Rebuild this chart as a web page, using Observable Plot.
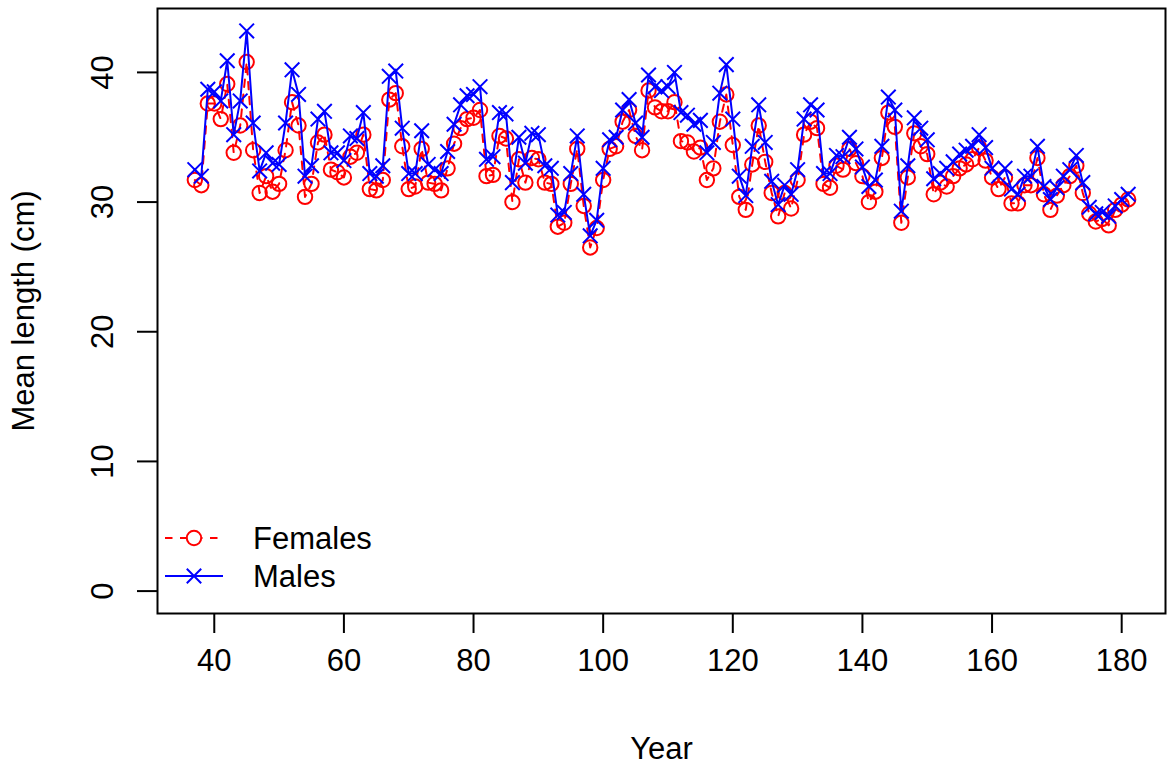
<!DOCTYPE html>
<html>
<head>
<meta charset="utf-8">
<script src="https://cdn.jsdelivr.net/npm/d3@7"></script>
<script src="https://cdn.jsdelivr.net/npm/@observablehq/plot@0.6"></script>
<style>
  html, body { margin: 0; padding: 0; background: #ffffff; }
  #wrap { position: relative; width: 1170px; height: 766px; overflow: hidden; }
  #legend { position: absolute; left: 0; top: 0; pointer-events: none; }
</style>
</head>
<body>
<div id="wrap"></div>
<script>
// ---- Data ----
const firstYear = 37;
const females = [
  31.7, 31.3, 37.6, 37.6, 36.4, 39.1, 33.8, 35.9, 40.8, 34.0,
  30.7, 32.0, 30.8, 31.4, 34.0, 37.7, 35.9, 30.4, 31.4, 34.6,
  35.2, 32.5, 32.3, 31.9, 33.5, 33.8, 35.2, 31.0, 30.9, 31.7,
  37.9, 38.4, 34.3, 31.0, 31.2, 34.1, 31.5, 31.4, 30.9, 32.6,
  34.5, 35.7, 36.4, 36.5, 37.1, 32.0, 32.1, 35.1, 34.9, 30.0,
  33.3, 31.5, 33.4, 33.3, 31.5, 31.4, 28.1, 28.4, 31.4, 34.1,
  29.7, 26.5, 28.0, 31.7, 34.1, 34.3, 36.2, 37.1, 35.1, 34.0,
  38.6, 37.3, 37.0, 37.0, 37.7, 34.7, 34.6, 33.9, 34.2, 31.7,
  32.6, 36.2, 38.3, 34.4, 30.4, 29.4, 32.9, 35.9, 33.1, 30.7,
  28.9, 30.7, 29.5, 31.7, 35.2, 36.2, 35.7, 31.4, 31.1, 32.8,
  32.5, 34.1, 33.0, 32.0, 30.0, 30.8, 33.4, 36.9, 35.8, 28.4,
  31.9, 35.3, 34.3, 33.7, 30.6, 31.5, 31.2, 32.0, 32.6, 32.9,
  33.3, 34.2, 33.2, 31.9, 31.0, 31.9, 29.9, 29.9, 31.3, 31.3,
  33.4, 30.6, 29.4, 30.5, 31.3, 32.0, 32.8, 30.7, 29.1, 28.5,
  28.7, 28.2, 29.4, 29.8, 30.2
];
const males = [
  32.5, 32.0, 38.7, 38.5, 37.8, 40.9, 35.2, 37.8, 43.2, 36.1,
  32.4, 33.8, 33.0, 32.9, 36.1, 40.2, 38.3, 32.0, 32.8, 36.4,
  37.0, 33.8, 33.8, 33.2, 35.1, 34.9, 36.9, 32.2, 32.0, 32.8,
  39.7, 40.1, 35.7, 32.2, 32.2, 35.5, 32.9, 32.5, 32.2, 33.9,
  36.0, 37.5, 38.2, 38.3, 38.9, 33.3, 33.5, 36.9, 36.8, 31.5,
  35.0, 33.0, 35.3, 35.2, 32.8, 32.6, 29.0, 29.2, 32.2, 35.1,
  30.6, 27.4, 28.6, 32.6, 34.8, 35.0, 37.1, 37.9, 36.1, 35.0,
  39.8, 38.9, 38.6, 38.9, 40.0, 36.9, 36.7, 36.0, 36.3, 33.8,
  34.6, 38.4, 40.6, 36.4, 32.0, 30.5, 34.3, 37.5, 34.6, 31.6,
  29.8, 31.3, 30.6, 32.5, 36.4, 37.5, 37.1, 32.2, 32.2, 33.6,
  33.5, 35.0, 34.1, 32.7, 31.2, 31.7, 34.3, 38.1, 37.1, 29.3,
  32.8, 36.5, 35.7, 34.8, 31.8, 32.2, 32.6, 33.1, 33.7, 34.0,
  34.3, 35.2, 34.2, 32.6, 32.0, 32.6, 31.0, 30.6, 32.0, 32.0,
  34.3, 31.2, 30.2, 31.1, 32.0, 32.5, 33.6, 31.5, 29.6, 29.1,
  29.2, 28.9, 29.7, 30.2, 30.6
];
const xTicks = [40, 60, 80, 100, 120, 140, 160, 180];
const yTicks = [0, 10, 20, 30, 40];
const seriesNames = ["Females", "Males"];
const seriesColors = ["#FF0000", "#0000FF"];

// ---- Build tables ----
const fem = females.map((v, i) => ({year: firstYear + i, value: v}));
const mal = males.map((v, i) => ({year: firstYear + i, value: v}));

// R-style 4% axis expansion
const xMin = firstYear, xMax = firstYear + females.length - 1;
const xPad = (xMax - xMin) * 0.04;
const yMax = d3.max(males.concat(females));
const yPad = yMax * 0.04;

const FONT = "'Liberation Sans', Arial, Helvetica, sans-serif";

const chart = Plot.plot({
  width: 1170,
  height: 766,
  marginLeft: 157,
  marginRight: 5,
  marginTop: 8,
  marginBottom: 153,
  x: {domain: [xMin - xPad, xMax + xPad]},
  y: {domain: [0 - yPad, yMax + yPad]},
  style: {fontFamily: FONT, fontSize: "31px", color: "black", background: "white", overflow: "visible"},
  marks: [
    Plot.axisX({ticks: xTicks, tickSize: 20, tickPadding: 15, strokeWidth: 2,
      label: "Year", labelAnchor: "center", labelArrow: "none", labelOffset: 145}),
    Plot.axisY({ticks: yTicks, tickSize: 20, tickPadding: 25, tickRotate: -90, strokeWidth: 2,
      label: "Mean length (cm)", labelAnchor: "center", labelArrow: "none", labelOffset: 146}),
    Plot.line(fem, {x: "year", y: "value", stroke: seriesColors[0], strokeWidth: 2, strokeDasharray: "7.5,7.5"}),
    Plot.dot(fem, {x: "year", y: "value", r: 7.2, stroke: seriesColors[0], strokeWidth: 2, fill: "none"}),
    Plot.line(mal, {x: "year", y: "value", stroke: seriesColors[1], strokeWidth: 2}),
    Plot.dot(mal, {x: "year", y: "value", symbol: "times", r: 6.7, stroke: seriesColors[1], strokeWidth: 2}),
    Plot.frame({stroke: "black", strokeWidth: 2})
  ]
});

const wrap = document.getElementById("wrap");
wrap.appendChild(chart);

// ---- Legend (overlay, bottom-left inside the plot box) ----
const leg = d3.select(wrap).append("svg")
  .attr("id", "legend")
  .attr("width", 1170).attr("height", 766);
const rows = [538, 576];
seriesNames.forEach((name, i) => {
  const g = leg.append("g").attr("transform", `translate(0,${rows[i]})`);
  g.append("line").attr("x1", 165).attr("x2", 223).attr("y1", 0).attr("y2", 0)
    .attr("stroke", seriesColors[i]).attr("stroke-width", 2)
    .attr("stroke-dasharray", i === 0 ? "7.5,7.5" : null);
  if (i === 0) {
    g.append("circle").attr("cx", 194).attr("cy", 0).attr("r", 7.2)
      .attr("fill", "white").attr("stroke", seriesColors[i]).attr("stroke-width", 2);
  } else {
    const s = 7.2;
    g.append("path").attr("d", `M${194 - s},${-s}L${194 + s},${s}M${194 - s},${s}L${194 + s},${-s}`)
      .attr("stroke", seriesColors[i]).attr("stroke-width", 2);
  }
  g.append("text").attr("x", 253).attr("y", 0).attr("dy", "0.35em")
    .attr("font-family", FONT).attr("font-size", 31).attr("fill", "black")
    .text(name);
});
</script>
</body>
</html>
